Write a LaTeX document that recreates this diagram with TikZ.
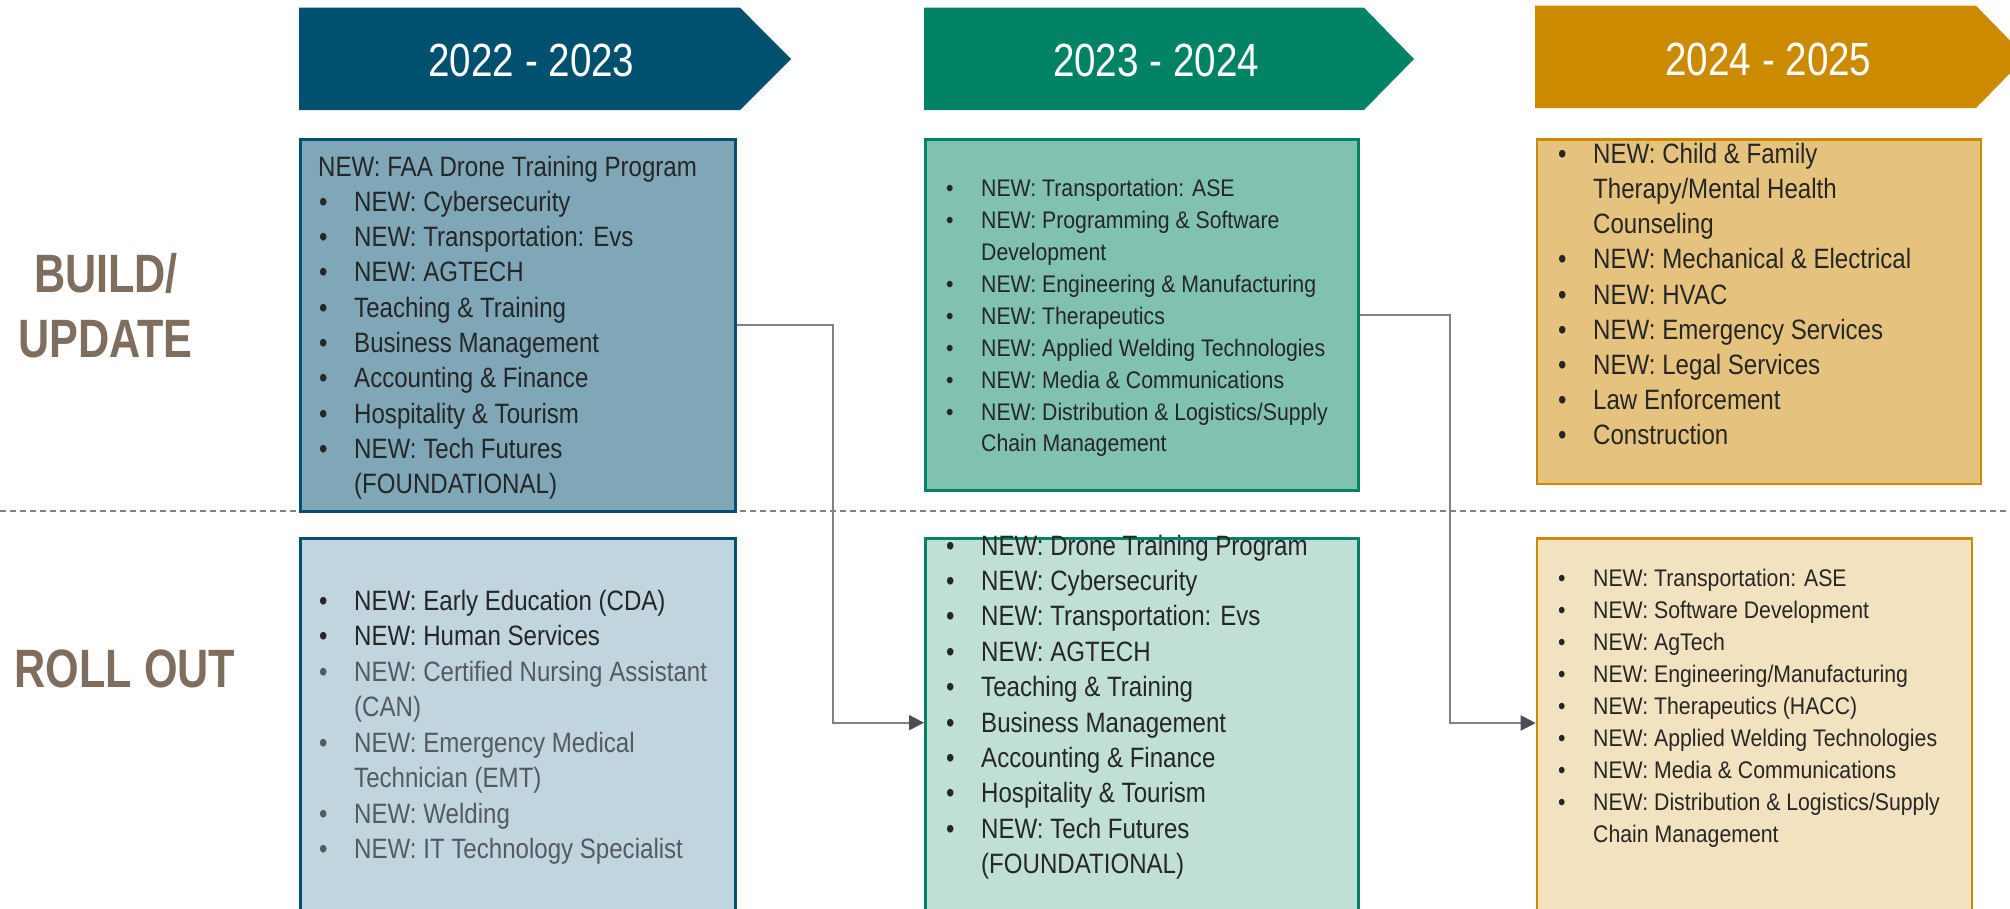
\documentclass[tikz,border=0pt]{standalone}
\usepackage{fontspec}
\setmainfont{Liberation Sans}
\newfontfamily\bodyfont{Liberation Sans}[FakeStretch=0.86]
\newfontfamily\smbodyfont{Liberation Sans}[FakeStretch=0.885]
\newfontfamily\hdrfont{Liberation Sans}[FakeStretch=0.83]
\newfontfamily\lblfont{Liberation Sans}[FakeStretch=0.80]
\usetikzlibrary{arrows.meta,calc}
\definecolor{hblue}{HTML}{005070}
\definecolor{hgreen}{HTML}{008264}
\definecolor{hgold}{HTML}{CC8A00}
\definecolor{fblueD}{HTML}{7FA7B8}
\definecolor{fblueL}{HTML}{C0D5DD}
\definecolor{fgreenD}{HTML}{80C1AF}
\definecolor{fgreenL}{HTML}{C0E0D7}
\definecolor{fgoldD}{HTML}{E5C37E}
\definecolor{fgoldL}{HTML}{F2E2C0}
\definecolor{txtdark}{HTML}{262626}
\definecolor{txtgray}{HTML}{555A60}
\definecolor{lblcol}{HTML}{7F6E5E}
\definecolor{conncol}{HTML}{808085}
\definecolor{tipcol}{HTML}{4A4D55}
\newcommand\B{\llap{\makebox[35pt][l]{\textbullet}}}
\newcommand\G{\color{txtgray}}
\tikzset{
  box/.style={draw, line width=2.5pt, inner sep=0pt, anchor=north west},
  big/.style={inner sep=0pt, anchor=base west, text=txtdark, font=\bodyfont\fontsize{28}{34}\selectfont},
  small/.style={inner sep=0pt, anchor=base west, text=txtdark, font=\smbodyfont\fontsize{24}{30}\selectfont},
  hdr/.style={inner sep=0pt, anchor=base, text=white, font=\hdrfont\fontsize{46.5}{50}\selectfont},
  lbl/.style={inner sep=0pt, anchor=base, text=lblcol, font=\lblfont\bfseries\fontsize{54}{60}\selectfont},
  conn/.style={draw=conncol, line width=2pt, -{Triangle[length=15pt,width=15pt,color=tipcol]}},
  divider/.style={draw=conncol, line width=2pt, dash pattern=on 6pt off 4pt}
}
\begin{document}
\begin{tikzpicture}[x=1pt,y=-1pt]
\useasboundingbox (0,0) rectangle (2010,908);
% header arrows
\fill[hblue] (299,7.7) -- (740,7.7) -- (791,59) -- (740,110) -- (299,110) -- cycle;
\fill[hgreen] (924,7.7) -- (1364,7.7) -- (1414,59) -- (1364,110) -- (924,110) -- cycle;
\fill[hgold] (1535,5.7) -- (1976,5.7) -- (2026,57) -- (1976,108) -- (1535,108) -- cycle;
\node[hdr] (h1) at (531.5,76) {2022 - 2023};
\node[hdr] (h2) at (1156,76) {2023 - 2024};
\node[hdr] (h3) at (1768.5,75) {2024 - 2025};
% side labels
\node[lbl] (l1) at (106,292) {BUILD/};
\node[lbl] (l2) at (105.5,357) {UPDATE};
\node[lbl] (l3) at (125,687) {ROLL OUT};
% divider
\draw[divider] (0,510.7) -- (2010,510.7);
% boxes
\node[box, draw=hblue, fill=fblueD, minimum width=435pt, minimum height=372pt] (b1) at (299,138.3) {};
\node[box, draw=hgreen, fill=fgreenD, minimum width=433.3pt, minimum height=350.7pt] (b2) at (924,138.3) {};
\node[box, draw=hgold, fill=fgoldD, minimum width=444pt, minimum height=344.4pt] (b3) at (1535.7,138.3) {};
\node[box, draw=hblue, fill=fblueL, minimum width=435pt, minimum height=390pt] (b4) at (299,537.3) {};
\node[box, draw=hgreen, fill=fgreenL, minimum width=433.3pt, minimum height=390pt] (b5) at (924,537.3) {};
\node[box, draw=hgold, fill=fgoldL, minimum width=435pt, minimum height=390pt] (b6) at (1535.7,537.3) {};
% connectors
\draw[conn] ($(b1.north east)+(0,186.4)$) -- ++(96,0) |- ($(b5.north west)+(0,185.4)$);
\draw[conn] ($(b2.north east)+(0,176.4)$) -- ++(89.7,0) |- ($(b6.north west)+(0,185.7)$);
% box 1 text
\node[big] (t1-0) at (318,176) {NEW: FAA Drone Training Program};
\foreach \txt [count=\i] in {{\B NEW: Cybersecurity},{\B NEW: Transportation: Evs},{\B NEW: AGTECH},{\B Teaching \& Training},{\B Business Management},{\B Accounting \& Finance},{\B Hospitality \& Tourism},{\B NEW: Tech Futures},{(FOUNDATIONAL)}}
  \node[big] (t1-\i) at (354,{176+35.3*\i}) {\txt};
% box 2 text
\foreach \txt [count=\i] in {{\B NEW: Transportation: ASE},{\B NEW: Programming \& Software},{Development},{\B NEW: Engineering \& Manufacturing},{\B NEW: Therapeutics},{\B NEW: Applied Welding Technologies},{\B NEW: Media \& Communications},{\B NEW: Distribution \& Logistics/Supply},{Chain Management}}
  \node[small] (t2-\i) at (981,{196.7+31.9*(\i-1)}) {\txt};
% box 3 text
\foreach \txt [count=\i] in {{\B NEW: Child \& Family},{Therapy/Mental Health},{Counseling},{\B NEW: Mechanical \& Electrical},{\B NEW: HVAC},{\B NEW: Emergency Services},{\B NEW: Legal Services},{\B Law Enforcement},{\B Construction}}
  \node[big] (t3-\i) at (1593,{163.3+35.2*(\i-1)}) {\txt};
% box 4 text
\foreach \txt [count=\i] in {{\B NEW: Early Education (CDA)},{\B NEW: Human Services},{\G\B NEW: Certified Nursing Assistant},{\G (CAN)},{\G\B NEW: Emergency Medical},{\G Technician (EMT)},{\G\B NEW: Welding},{\G\B NEW: IT Technology Specialist}}
  \node[big] (t4-\i) at (354,{610+35.5*(\i-1)}) {\txt};
% box 5 text
\foreach \txt [count=\i] in {{\B NEW: Drone Training Program},{\B NEW: Cybersecurity},{\B NEW: Transportation: Evs},{\B NEW: AGTECH},{\B Teaching \& Training},{\B Business Management},{\B Accounting \& Finance},{\B Hospitality \& Tourism},{\B NEW: Tech Futures},{(FOUNDATIONAL)}}
  \node[big] (t5-\i) at (981,{555+35.4*(\i-1)}) {\txt};
% box 6 text
\foreach \txt [count=\i] in {{\B NEW: Transportation: ASE},{\B NEW: Software Development},{\B NEW: AgTech},{\B NEW: Engineering/Manufacturing},{\B NEW: Therapeutics (HACC)},{\B NEW: Applied Welding Technologies},{\B NEW: Media \& Communications},{\B NEW: Distribution \& Logistics/Supply},{Chain Management}}
  \node[small] (t6-\i) at (1593,{586.7+32*(\i-1)}) {\txt};
\end{tikzpicture}
\end{document}
